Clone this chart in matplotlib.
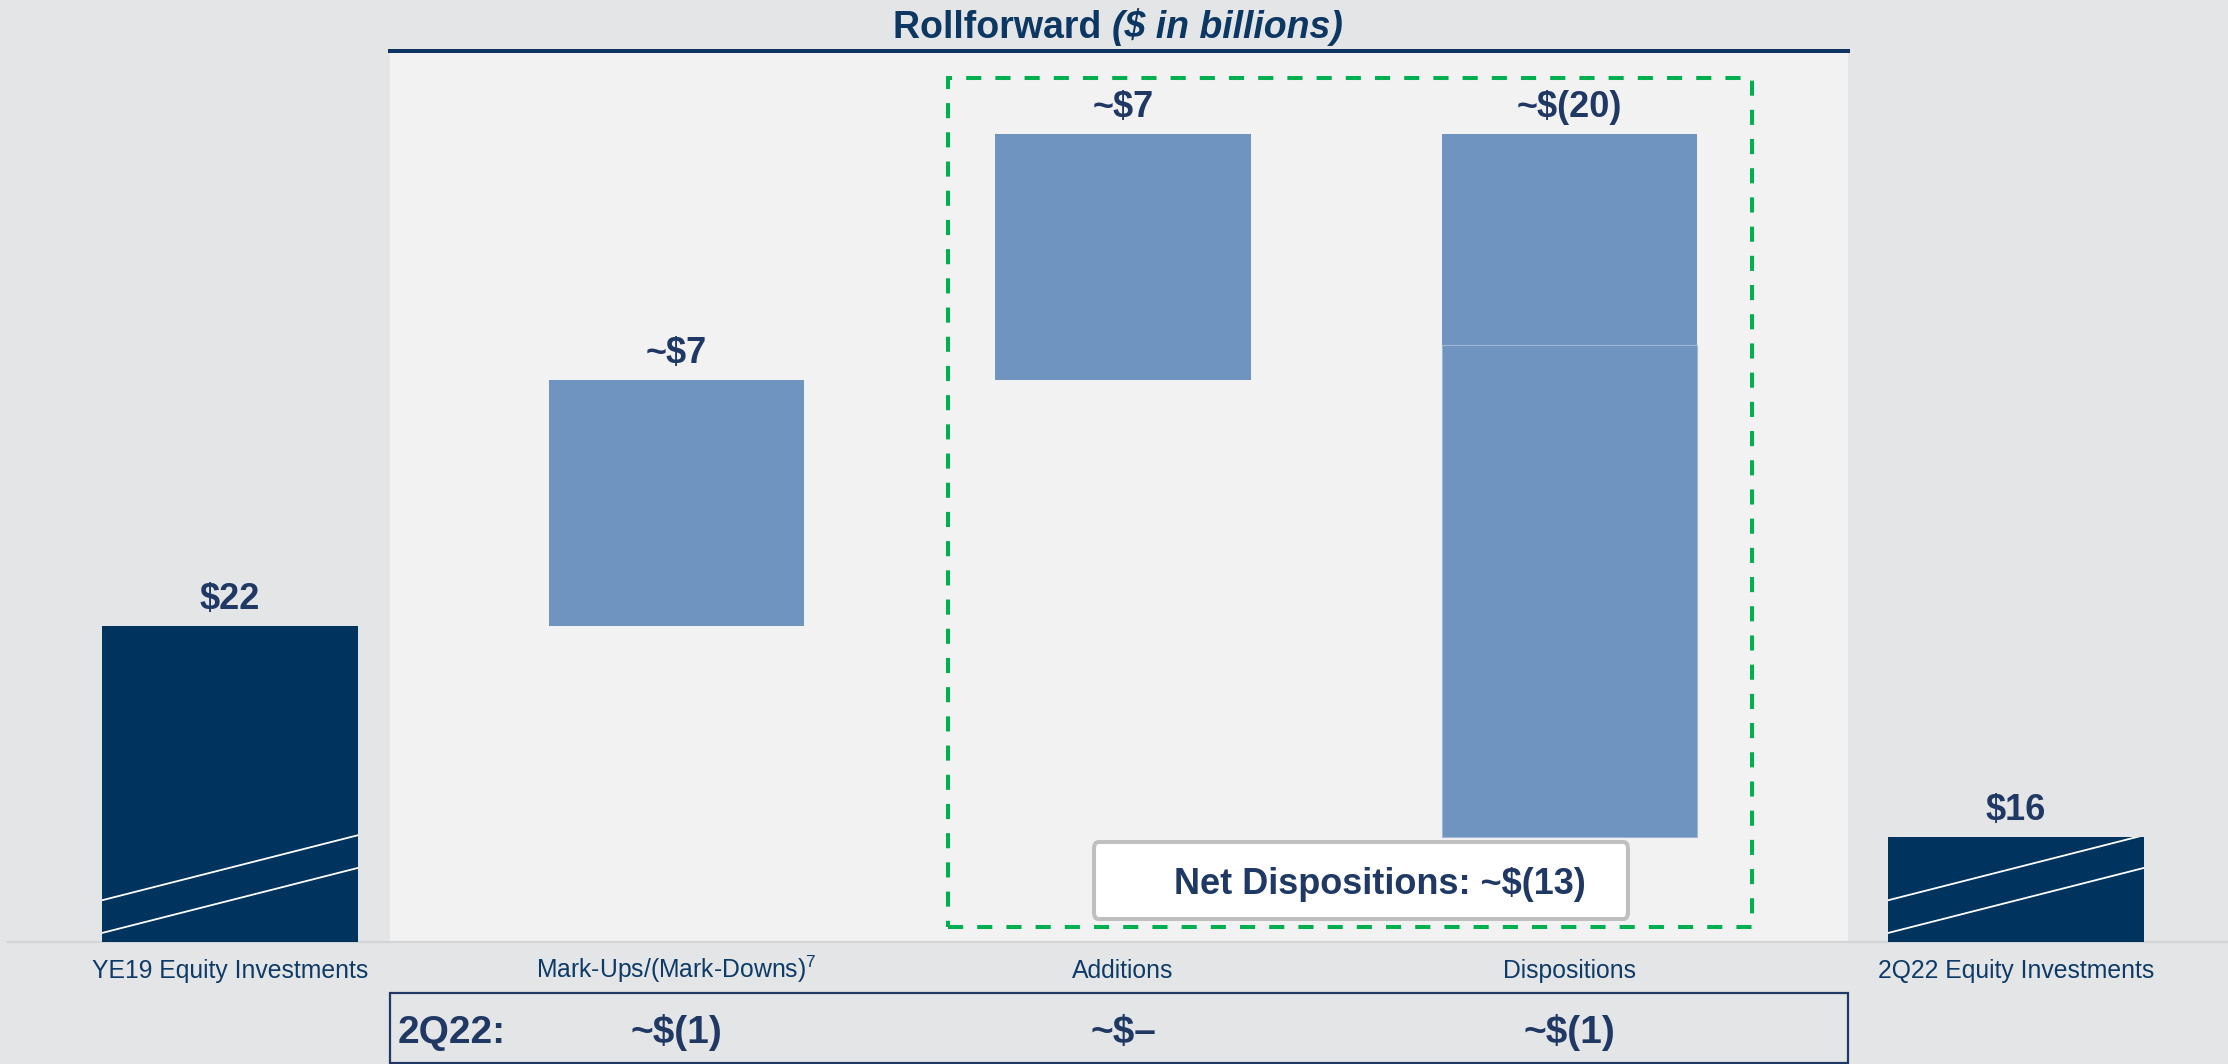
import matplotlib
matplotlib.use("Agg")
import matplotlib.pyplot as plt
import matplotlib.transforms as mtransforms
from matplotlib.patches import Rectangle, FancyBboxPatch
from matplotlib.lines import Line2D

# ---------------- data ----------------
categories = ["YE19 Equity Investments", "Mark-Ups/(Mark-Downs)$^{7}$",
              "Additions", "Dispositions", "2Q22 Equity Investments"]
start_value = 22
changes = [7, 7, -20]          # mark-ups, additions, dispositions
end_value = 16
value_labels = ["$22", "~$7", "~$7", "~$(20)", "$16"]
q2_title = "2Q22:"
q2_labels = ["~$(1)", "~$\u2013", "~$(1)"]
net_label = "Net Dispositions: ~$(13)"
disp_split = 30                # visible seam inside the dispositions bar
axis_floor = 13                # broken axis: bars start here

# ---------------- style ----------------
plt.rcParams["font.family"] = ["Liberation Sans", "DejaVu Sans"]
plt.rcParams["mathtext.fontset"] = "custom"
plt.rcParams["mathtext.rm"] = "Liberation Sans"
plt.rcParams["mathtext.it"] = "Liberation Sans:italic"
plt.rcParams["mathtext.bf"] = "Liberation Sans:bold"

BG = "#E4E5E7"
PANEL = "#F2F2F2"
DARK = "#00345F"
LIGHT = "#6F94BF"
VAL = "#203864"
CAT = "#0D3A66"
TITLE = "#0C3763"
GREEN = "#00B050"

W_PX, H_PX = 2228, 1064
fig = plt.figure(figsize=(W_PX / 100, H_PX / 100), dpi=100, facecolor=BG)

def fx(px):
    return px / W_PX

def fy(py):
    return 1 - py / H_PX

# axes geometry (pixel layout)
X_LEFT, X_RIGHT = -0.5151, 4.4748
Y_TOP = 38.30
ax_bottom_px, ax_top_px = 942.45, 53
ax = fig.add_axes([0, fy(ax_bottom_px), 1, fy(ax_top_px) - fy(ax_bottom_px)])
ax.set_xlim(X_LEFT, X_RIGHT)
ax.set_ylim(axis_floor, Y_TOP)
ax.set_facecolor(BG)
ax.axis("off")

def px2x(px):
    return X_LEFT + px / W_PX * (X_RIGHT - X_LEFT)

def py2v(py):
    return axis_floor + (ax_bottom_px - py) / (ax_bottom_px - ax_top_px) * (Y_TOP - axis_floor)

# light panel
ax.axvspan(px2x(390), px2x(1848), color=PANEL, zorder=0, lw=0)
# baseline
ax.axhline(axis_floor, xmin=8 / W_PX, xmax=1, color="#D3D4D6", lw=1.6, zorder=1, clip_on=False)

# ---------------- bars ----------------
bar_w = 0.573
levels = [start_value]
for c in changes:
    levels.append(levels[-1] + c)

bars = []
b = ax.bar(0, start_value - axis_floor, bottom=axis_floor, width=bar_w, color=DARK, zorder=3)
bars.append(b[0])
tops = [start_value]
for i, c in enumerate(changes, start=1):
    lo = min(levels[i - 1], levels[i])
    hi = max(levels[i - 1], levels[i])
    if i == 3:
        ax.bar(i, hi - disp_split, bottom=disp_split, width=bar_w, color=LIGHT, zorder=3, lw=0)
        ax.bar(i, disp_split - lo, bottom=lo, width=bar_w, color=LIGHT, zorder=3,
               edgecolor="#9FB7D6", lw=0.8)
    else:
        ax.bar(i, hi - lo, bottom=lo, width=bar_w, color=LIGHT, zorder=3, lw=0)
    tops.append(hi)
b = ax.bar(4, end_value - axis_floor, bottom=axis_floor, width=bar_w, color=DARK, zorder=3)
bars.append(b[0])
tops.append(end_value)

# axis-break slashes on the two total bars
for patch, xc in zip(bars, [0, 4]):
    for off in (1.2, 0.27):
        ln, = ax.plot([xc - bar_w / 2, xc + bar_w / 2],
                      [axis_floor + off, axis_floor + off + 1.85],
                      color="white", lw=1.3, zorder=4)
        ln.set_clip_path(patch)

# value labels
for i, (lab, top) in enumerate(zip(value_labels, tops)):
    ax.annotate(lab, xy=(i, top), xytext=(0, 12.2), textcoords="offset points",
                ha="center", va="baseline", fontsize=26, fontweight="bold",
                color=VAL, zorder=5)

# category labels
for i, cat in enumerate(categories):
    ax.annotate(cat, xy=(i, axis_floor), xytext=(0, -36 * 0.72), textcoords="offset points",
                ha="center", va="baseline", fontsize=17.8, color=CAT, annotation_clip=False)

# green dashed group box
ax.add_patch(Rectangle((px2x(948), py2v(927)), px2x(1752) - px2x(948), py2v(78) - py2v(927),
                       fill=False, edgecolor=GREEN, lw=2.9, ls=(0, (3.75, 3.5)), zorder=2))

# net dispositions box
ax.add_patch(FancyBboxPatch((px2x(1094), py2v(919)), px2x(1628) - px2x(1094), py2v(842) - py2v(919),
                            boxstyle="round,pad=0,rounding_size=0.01", facecolor="white",
                            edgecolor="#BFBFBF", lw=2.9, zorder=5, mutation_aspect=20))
ax.text(px2x(1380), py2v(894), net_label, ha="center", va="baseline", fontsize=26,
        fontweight="bold", color=VAL, zorder=6)

# ---------------- title ----------------
r = fig.canvas.get_renderer()
t1 = fig.text(0, fy(38), "Rollforward ", fontsize=27, fontweight="bold", color=TITLE, va="baseline")
t2 = fig.text(0, fy(38), "($ in billions)", fontsize=27, fontweight="bold", style="italic",
              color=TITLE, va="baseline")
w1 = t1.get_window_extent(r).width
w2 = t2.get_window_extent(r).width
x0 = 1118 - (w1 + w2) / 2
t1.set_x(fx(x0))
t2.set_x(fx(x0 + w1))
fig.add_artist(Line2D([fx(390), fx(1848)], [fy(51), fy(51)], lw=4 * 0.72, color="#0F3461"))

# ---------------- 2Q22 row ----------------
fig.add_artist(Rectangle((fx(390), fy(1063)), fx(1848) - fx(390), fy(993) - fy(1063),
                         transform=fig.transFigure, fill=False, edgecolor="#1F3864", lw=1.6))
fig.text(fx(398), fy(1043), q2_title, fontsize=28, fontweight="bold", color=VAL, va="baseline")
blend = mtransforms.blended_transform_factory(ax.transData, fig.transFigure)
for i, lab in enumerate(q2_labels, start=1):
    ax.text(i, fy(1043), lab, transform=blend, ha="center", va="baseline", fontsize=28,
            fontweight="bold", color=VAL, clip_on=False)

fig.savefig("out.png", dpi=100, facecolor=BG)
